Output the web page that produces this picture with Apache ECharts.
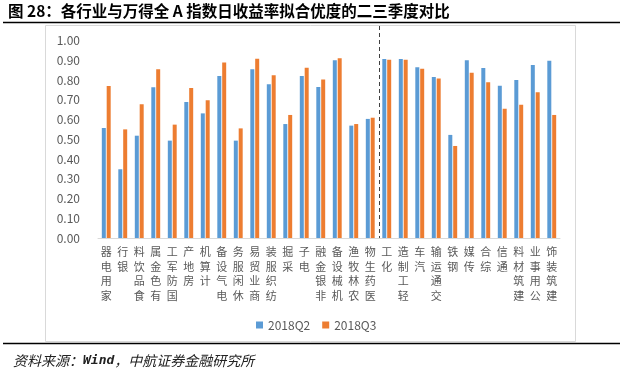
<!DOCTYPE html>
<html>
<head>
<meta charset="utf-8">
<script src="https://cdn.jsdelivr.net/npm/echarts@6/dist/echarts.min.js"></script>
<style>
html,body{margin:0;padding:0;background:#fff;}
#c{width:622px;height:377px;}
</style>
</head>
<body>
<div id="c"></div>
<script>
const titleText = '图 28：各行业与万得全 A 指数日收益率拟合优度的二三季度对比';
const sourceParts = ['资料来源：', 'Wind', '，中航证券金融研究所'];
const seriesNames = ['2018Q2', '2018Q3'];
const categories = ['家用电器','银行','食品饮料','有色金属','国防军工','房地产','计算机','电气设备','休闲服务','商业贸易','纺织服装','采掘','电子','非银金融','机械设备','农林牧渔','医药生物','化工','轻工制造','汽车','交通运输','钢铁','传媒','综合','通信','建筑材料','公用事业','建筑装饰'];
const q2 = [0.557,0.348,0.518,0.763,0.493,0.689,0.631,0.820,0.493,0.854,0.778,0.577,0.820,0.765,0.900,0.569,0.603,0.906,0.906,0.864,0.815,0.522,0.900,0.861,0.771,0.800,0.876,0.898];
const q3 = [0.770,0.550,0.677,0.854,0.574,0.759,0.697,0.888,0.555,0.908,0.824,0.623,0.862,0.802,0.910,0.577,0.609,0.903,0.903,0.857,0.807,0.466,0.837,0.788,0.655,0.675,0.738,0.623];
const yTicks = {min: 0, max: 1, interval: 0.1};
const splitAfter = '医药生物';

const chart = echarts.init(document.getElementById('c'), null, {renderer: 'canvas'});
const option = {
  animation: false,
  backgroundColor: '#fff',
  grid: {left: 98, right: 62, top: 40.5, bottom: 139, containLabel: false},
  legend: {
    data: seriesNames,
    left: 251, top: 314,
    itemWidth: 7, itemHeight: 7, itemGap: 12,
    icon: 'rect',
    textStyle: {fontSize: 12, color: '#595959', fontFamily: 'Noto Sans CJK SC'}
  },
  xAxis: {
    type: 'category',
    data: categories,
    axisLine: {lineStyle: {color: '#D9D9D9'}},
    axisTick: {show: false},
    axisLabel: {
      interval: 0, margin: 7,
      fontSize: 11, lineHeight: 14.5, color: '#595959',
      fontFamily: 'Noto Sans CJK SC',
      verticalAlign: 'top',
      formatter: v => v.split('').reverse().join('\n')
    }
  },
  yAxis: {
    type: 'value',
    min: yTicks.min, max: yTicks.max, interval: yTicks.interval,
    axisLine: {show: false},
    axisTick: {show: false},
    splitLine: {show: false},
    axisLabel: {margin: 18, fontSize: 12, color: '#595959', fontFamily: 'Noto Sans CJK SC',
      formatter: v => v.toFixed(2)}
  },
  series: [
    {name: seriesNames[0], type: 'bar', data: q2, barWidth: 4, barGap: '22%', itemStyle: {color: '#5B9BD5'}},
    {name: seriesNames[1], type: 'bar', data: q3, barWidth: 4, barGap: '22%', itemStyle: {color: '#ED7D31'}}
  ]
};
chart.setOption(option);

const idx = categories.indexOf(splitAfter);
const xa = chart.convertToPixel({xAxisIndex: 0}, idx);
const xb = chart.convertToPixel({xAxisIndex: 0}, idx + 1);
const xs = Math.round((xa + xb) / 2) + 0.5;
const y0 = chart.convertToPixel({yAxisIndex: 0}, 0);

chart.setOption({
  graphic: [
    {type: 'text', left: 8, top: 3, style: {text: titleText, font: 'bold 15.5px "Noto Sans CJK SC"', fill: '#000'}},
    {type: 'line', shape: {x1: 3, y1: 22.5, x2: 620, y2: 22.5}, style: {stroke: '#000', lineWidth: 1.5}},
    {type: 'rect', shape: {x: 45.5, y: 25.5, width: 530, height: 316}, style: {fill: 'none', stroke: '#D9D9D9', lineWidth: 1}, z: -1},
    {type: 'line', shape: {x1: xs, y1: 26, x2: xs, y2: y0}, style: {stroke: '#404040', lineWidth: 1, lineDash: [4, 3]}},
    {type: 'line', shape: {x1: 3, y1: 343.5, x2: 620, y2: 343.5}, style: {stroke: '#000', lineWidth: 1.5}},
    {type: 'text', left: 13, top: 354, style: {
      text: '{a|' + sourceParts[0] + '}{b|' + sourceParts[1] + '}{a|' + sourceParts[2] + '}',
      rich: {
        a: {font: 'italic 14px "Noto Sans CJK SC"', fill: '#222'},
        b: {font: 'italic bold 13px "DejaVu Sans Mono"', fill: '#222'}
      }
    }}
  ]
});
</script>
</body>
</html>
